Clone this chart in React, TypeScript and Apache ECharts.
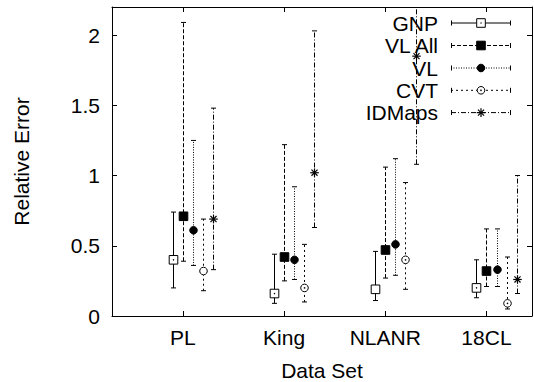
import React, { useEffect, useRef } from "react";
import * as echarts from "echarts";

const categories = ["PL", "King", "NLANR", "18CL"];
const categoryPositions = [1, 2, 3, 4];
const seriesNames = ["GNP", "VL All", "VL", "CVT", "IDMaps"];
const seriesOffsets = [-0.1, 0, 0.1, 0.2, 0.3];

const gnpMean = [0.4, 0.16, 0.19, 0.2];
const gnpLow = [0.2, 0.09, 0.11, 0.13];
const gnpHigh = [0.74, 0.44, 0.46, 0.4];

const vlAllMean = [0.71, 0.42, 0.47, 0.32];
const vlAllLow = [0.39, 0.25, 0.27, 0.21];
const vlAllHigh = [2.09, 1.22, 1.06, 0.62];

const vlMean = [0.61, 0.4, 0.51, 0.33];
const vlLow = [0.36, 0.26, 0.29, 0.21];
const vlHigh = [1.25, 0.92, 1.12, 0.62];

const cvtMean = [0.32, 0.2, 0.4, 0.09];
const cvtLow = [0.18, 0.1, 0.19, 0.05];
const cvtHigh = [0.69, 0.51, 0.95, 0.42];

const idmapsMean = [0.69, 1.02, 1.85, 0.26];
const idmapsLow = [0.33, 0.63, 1.08, 0.16];
const idmapsHigh = [1.48, 2.03, 2.6, 1.0];

const yTickValues = [0, 0.5, 1, 1.5, 2];

const FONT = "'Liberation Sans', Arial, Helvetica, sans-serif";

const seriesData = [
  { mean: gnpMean, low: gnpLow, high: gnpHigh },
  { mean: vlAllMean, low: vlAllLow, high: vlAllHigh },
  { mean: vlMean, low: vlLow, high: vlHigh },
  { mean: cvtMean, low: cvtLow, high: cvtHigh },
  { mean: idmapsMean, low: idmapsLow, high: idmapsHigh },
];

const dashes: (number[] | null)[] = [null, [4, 2], [1, 1.5], [2, 3], [5, 2, 1, 2]];
const markerKinds = ["openSquare", "filledSquare", "filledCircle", "dotCircle", "star"];

function markerShapes(kind: string, cx: number, cy: number): any[] {
  const s = 4.3;
  const stroke = { stroke: "#000", lineWidth: 1 };
  switch (kind) {
    case "openSquare":
      return [
        { type: "rect", shape: { x: cx - s, y: cy - s, width: 2 * s, height: 2 * s }, style: { fill: "#fff", ...stroke } },
        { type: "circle", shape: { cx, cy, r: 0.7 }, style: { fill: "#000" } },
      ];
    case "filledSquare":
      return [{ type: "rect", shape: { x: cx - s, y: cy - s, width: 2 * s, height: 2 * s }, style: { fill: "#000", ...stroke } }];
    case "filledCircle":
      return [{ type: "circle", shape: { cx, cy, r: 3.8 }, style: { fill: "#000", ...stroke } }];
    case "dotCircle":
      return [
        { type: "circle", shape: { cx, cy, r: 3.8 }, style: { fill: "#fff", ...stroke } },
        { type: "circle", shape: { cx, cy, r: 0.8 }, style: { fill: "#000" } },
      ];
    case "star": {
      const r = s;
      const d = r * 0.707;
      return [
        { type: "line", shape: { x1: cx - r, y1: cy, x2: cx + r, y2: cy }, style: { ...stroke, lineWidth: 1.2 } },
        { type: "line", shape: { x1: cx, y1: cy - r, x2: cx, y2: cy + r }, style: { ...stroke, lineWidth: 1.2 } },
        { type: "line", shape: { x1: cx - d, y1: cy - d, x2: cx + d, y2: cy + d }, style: { ...stroke, lineWidth: 1.2 } },
        { type: "line", shape: { x1: cx - d, y1: cy + d, x2: cx + d, y2: cy - d }, style: { ...stroke, lineWidth: 1.2 } },
      ];
    }
  }
  return [];
}

function makeRender(idx: number) {
  return (params: any, api: any) => {
    const x = api.value(0);
    const m = api.value(1);
    const lo = api.value(2);
    const hi = api.value(3);
    const pm = api.coord([x, m]);
    const pl = api.coord([x, lo]);
    const ph = api.coord([x, hi]);
    const cx = Math.round(pm[0]) + 0.5;
    const cap = 2.5;
    const lineStyle: any = { stroke: "#000", lineWidth: 1 };
    if (dashes[idx]) lineStyle.lineDash = dashes[idx];
    return {
      type: "group",
      children: [
        { type: "line", shape: { x1: cx, y1: pl[1], x2: cx, y2: ph[1] }, style: lineStyle },
        { type: "line", shape: { x1: cx - cap, y1: pl[1], x2: cx + cap, y2: pl[1] }, style: { stroke: "#000", lineWidth: 1 } },
        { type: "line", shape: { x1: cx - cap, y1: ph[1], x2: cx + cap, y2: ph[1] }, style: { stroke: "#000", lineWidth: 1 } },
        ...markerShapes(markerKinds[idx], cx, pm[1]),
      ],
    };
  };
}

function legendGraphics(): any[] {
  const out: any[] = [];
  const textRight = 438;
  const x1 = 451;
  const x2 = 511;
  const xm = 481;
  const rowY = [23, 45.5, 68, 90.3, 112.6];
  seriesNames.forEach((name, i) => {
    const y = rowY[i];
    out.push({
      type: "text",
      x: textRight,
      y: y,
      style: { text: name, font: `21px ${FONT}`, fill: "#000", align: "right", verticalAlign: "middle" },
      z: 100,
    });
    const ls: any = { stroke: "#000", lineWidth: 1 };
    if (dashes[i]) ls.lineDash = dashes[i];
    out.push({ type: "line", shape: { x1, y1: y, x2, y2: y }, style: ls, z: 100 });
    out.push({ type: "line", shape: { x1: x1 + 0.5, y1: y - 2.5, x2: x1 + 0.5, y2: y + 2.5 }, style: { stroke: "#000", lineWidth: 1 }, z: 100 });
    out.push({ type: "line", shape: { x1: x2 - 0.5, y1: y - 2.5, x2: x2 - 0.5, y2: y + 2.5 }, style: { stroke: "#000", lineWidth: 1 }, z: 100 });
    markerShapes(markerKinds[i], xm, y).forEach((g) => out.push({ ...g, z: 101 }));
  });
  return out;
}

export default function App() {
  const ref = useRef<HTMLDivElement>(null);
  useEffect(() => {
    if (!ref.current) return;
    const chart = echarts.init(ref.current, undefined, { renderer: "svg" });
    const axisLine = { show: true, onZero: false, lineStyle: { color: "#000", width: 1 } };
    const tickStyle = { color: "#000", width: 1 };
    const labelStyle = { fontSize: 21, color: "#000", fontFamily: FONT };
    const xBase = { type: "value", min: 0.3, max: 4.45, splitLine: { show: false } };
    const yBase = { type: "value", min: 0, max: 2.2, interval: 0.5, splitLine: { show: false } };
    chart.setOption({
      animation: false,
      backgroundColor: "#fff",
      grid: { left: 112, right: 2, top: 7, bottom: 66, containLabel: false, outerBoundsMode: "none" },
      xAxis: [
        {
          ...xBase,
          position: "bottom",
          axisLine,
          axisTick: { show: true, inside: true, length: 5, customValues: categoryPositions, lineStyle: tickStyle },
          axisLabel: {
            ...labelStyle,
            margin: 11,
            customValues: categoryPositions,
            formatter: (v: number) => categories[Math.round(v) - 1] ?? "",
          },
          name: "Data Set",
          nameLocation: "middle",
          nameGap: 44,
          nameTextStyle: { ...labelStyle, lineHeight: 21 },
        },
        {
          ...xBase,
          position: "top",
          axisLine,
          axisTick: { show: true, inside: true, length: 5, customValues: categoryPositions, lineStyle: tickStyle },
          axisLabel: { show: false },
        },
      ],
      yAxis: [
        {
          ...yBase,
          position: "left",
          axisLine,
          axisTick: { show: true, inside: true, length: 5, customValues: yTickValues, lineStyle: tickStyle },
          axisLabel: { ...labelStyle, margin: 12, customValues: yTickValues },
          name: "Relative Error",
          nameLocation: "middle",
          nameGap: 80,
          nameTextStyle: labelStyle,
        },
        {
          ...yBase,
          position: "right",
          axisLine,
          axisTick: { show: true, inside: true, length: 5, customValues: yTickValues, lineStyle: tickStyle },
          axisLabel: { show: false },
        },
      ],
      series: seriesNames.map((name, i) => ({
        type: "custom",
        name,
        clip: true,
        xAxisIndex: 0,
        yAxisIndex: 0,
        encode: { x: 0, y: [1, 2, 3] },
        renderItem: makeRender(i),
        data: categoryPositions.map((p, j) => [
          p + seriesOffsets[i],
          seriesData[i].mean[j],
          seriesData[i].low[j],
          seriesData[i].high[j],
        ]),
      })),
      graphic: legendGraphics(),
    });
    return () => chart.dispose();
  }, []);
  return (
    <div
      ref={ref}
      style={{ position: "fixed", left: 0, top: 0, width: 534, height: 382, background: "#fff" }}
    />
  );
}
